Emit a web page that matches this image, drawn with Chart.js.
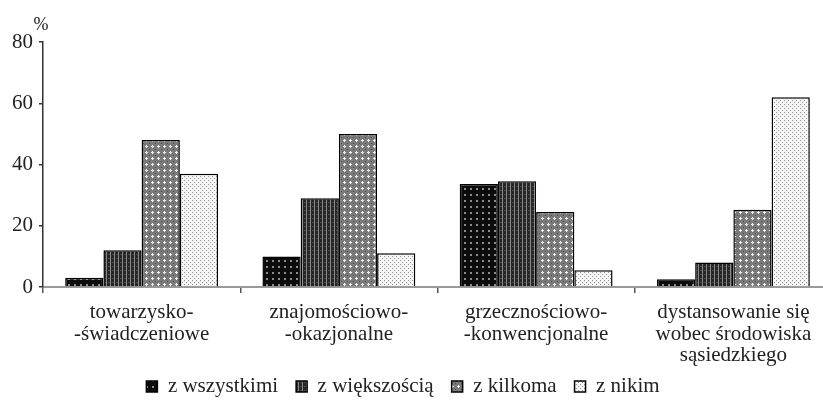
<!DOCTYPE html>
<html>
<head>
<meta charset="utf-8">
<script src="https://cdn.jsdelivr.net/npm/chart.js@4/dist/chart.umd.min.js"></script>
<style>
  html, body { margin: 0; padding: 0; background: #fff; overflow: hidden; }
  #wrap { width: 832px; height: 416px; }
</style>
</head>
<body>
<div id="wrap"><canvas id="myChart"></canvas></div>
<script>
// data
const categories = [
  ['towarzysko-', '-świadczeniowe'],
  ['znajomościowo-', '-okazjonalne'],
  ['grzecznościowo-', '-konwencjonalne'],
  ['dystansowanie się', 'wobec środowiska', 'sąsiedzkiego']
];
const seriesNames = ['z wszystkimi', 'z większością', 'z kilkoma', 'z nikim'];
const zWszystkimi = [3, 10, 33.6, 2.5];
const zWiekszoscia = [12, 29, 34.5, 8];
const zKilkoma = [48, 50, 24.5, 25.2];
const zNikim = [37, 11, 5.5, 62];
const yTicks = [0, 20, 40, 60, 80];

const serif = '"Liberation Serif", "Times New Roman", serif';

// hatch-like fills, like the printed original
function pattern(size, bg, draw) {
  const c = document.createElement('canvas');
  c.width = size; c.height = size;
  const g = c.getContext('2d');
  g.fillStyle = bg;
  g.fillRect(0, 0, size, size);
  draw(g);
  return g.createPattern(c, 'repeat');
}
const fillBlack = pattern(6, '#0c0c0c', g => {
  g.fillStyle = '#8c8c8c';
  g.fillRect(2, 2, 2, 2);
});
const fillDark = pattern(4, '#262626', g => {
  g.fillStyle = '#8a8a8a';
  g.fillRect(2, 0, 1, 4);
  g.fillStyle = '#4a4a4a';
  g.fillRect(0, 2, 2, 1);
});
const fillMid = pattern(6, '#7a7a7a', g => {
  g.fillStyle = '#f0f0f0';
  g.fillRect(2, 1, 1, 3);
  g.fillRect(1, 2, 3, 1);
  g.fillStyle = '#4a4a4a';
  g.fillRect(5, 5, 1, 1);
});
const fillLight = pattern(4, '#f6f6f6', g => {
  g.fillStyle = '#8f8f8f';
  g.fillRect(0, 0, 1, 1);
  g.fillRect(2, 2, 1, 1);
});
const fills = [fillBlack, fillDark, fillMid, fillLight];
const values = [zWszystkimi, zWiekszoscia, zKilkoma, zNikim];

// the "%" unit over the value axis
const percentLabel = {
  id: 'percentLabel',
  afterDraw(chart) {
    const y = chart.scales.y;
    const ctx = chart.ctx;
    ctx.save();
    ctx.font = '18px ' + serif;
    ctx.fillStyle = '#222';
    ctx.textAlign = 'center';
    ctx.textBaseline = 'alphabetic';
    ctx.fillText('%', y.right - 2, chart.chartArea.top - 12);
    ctx.restore();
  }
};

// legend in the original sits a bit left of centre and close under the labels
const legendNudge = {
  id: 'legendNudge',
  afterLayout(chart) {
    const lg = chart.legend;
    lg.left -= 16;
    lg.right -= 16;
    lg.top -= 9;
    lg.bottom -= 9;
  }
};

const data = {
  labels: categories,
  datasets: seriesNames.map((name, i) => ({
    label: name,
    data: values[i],
    backgroundColor: fills[i],
    borderColor: '#000',
    borderWidth: 1.5,
    borderSkipped: 'bottom',
    barPercentage: 1,
    categoryPercentage: 0.775
  }))
};

const config = {
  type: 'bar',
  data: data,
  options: {
    responsive: true,
    maintainAspectRatio: false,
    animation: false,
    layout: { padding: { top: 42, left: 6, right: 0, bottom: 0 } },
    plugins: {
      tooltip: { enabled: false },
      legend: {
        position: 'bottom',
        labels: {
          color: '#222',
          font: { family: serif, size: 21 },
          boxWidth: 11,
          boxHeight: 11,
          padding: 18
        }
      }
    },
    scales: {
      x: {
        offset: true,
        afterFit(axis) { axis.height = 80; },
        grid: { display: true, drawOnChartArea: false, offset: true, tickLength: 6, color: '#555', lineWidth: 1.5 },
        border: { display: true, color: '#999', width: 2 },
        ticks: { color: '#222', font: { family: serif, size: 21, lineHeight: 21.5 / 21 }, padding: 9, maxRotation: 0, autoSkip: false }
      },
      y: {
        min: 0,
        max: 80,
        afterBuildTicks(axis) { axis.ticks = yTicks.map(v => ({ value: v })); },
        grid: { display: true, drawOnChartArea: false, tickLength: 4, color: '#333', lineWidth: 1.5 },
        border: { display: true, color: '#333', width: 1.5 },
        ticks: { color: '#222', font: { family: serif, size: 21 }, padding: 6 }
      }
    }
  },
  plugins: [percentLabel, legendNudge]
};

const myChart = new Chart('myChart', config);
</script>
</body>
</html>
